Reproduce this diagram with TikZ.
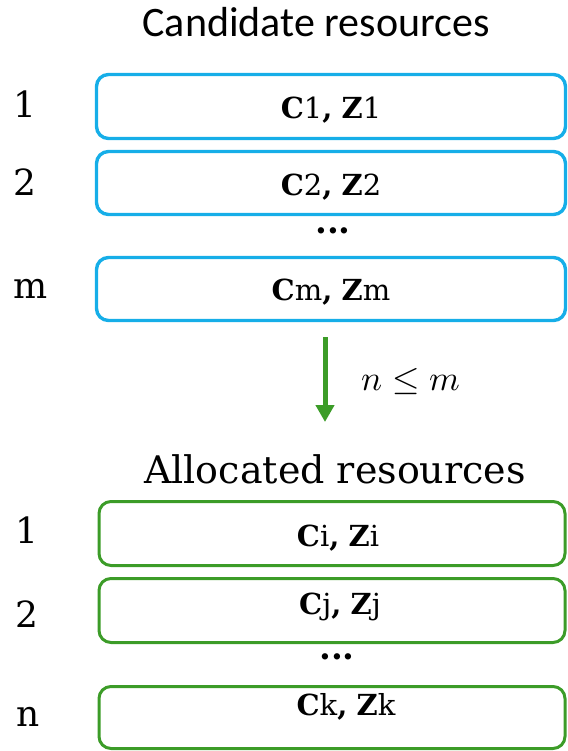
\documentclass[tikz,border=0pt]{standalone}
\usepackage{fontspec}
\usepackage{unicode-math}
\setmainfont{DejaVu Serif}
\setmathfont{Latin Modern Math}
\newfontfamily\calib{Carlito}
\usetikzlibrary{arrows.meta}
\definecolor{cblue}{RGB}{22,174,232}
\definecolor{cgreen}{RGB}{60,156,40}
\tikzset{
  candbox/.style={draw=cblue, line width=3.4pt, rounded corners=12pt, minimum width=469pt, inner sep=0pt},
  allocbox/.style={draw=cgreen, line width=3pt, rounded corners=12pt, minimum width=466pt, inner sep=0pt},
  idx/.style={font=\fontsize{36}{40}\selectfont, inner sep=0pt},
  cz/.style={font=\fontsize{29}{32}\selectfont, inner sep=0pt},
  dots/.style={font=\fontsize{34}{38}\selectfont\bfseries, inner sep=0pt},
}
\newcommand{\czpair}[1]{\textbf{C}#1\textbf{,} \textbf{Z}#1}
\begin{document}
\begin{tikzpicture}[x=1pt,y=-1pt]
\useasboundingbox (0,0) rectangle (567,751);
\node[inner sep=0pt, font=\calib\fontsize{42}{46}\selectfont] (ttop) at (316,22) {Candidate resources};
% candidate boxes
\node[candbox, minimum height=64pt] (b1) at (331,106.5) {};
\node[candbox, minimum height=63pt] (b2) at (331,183) {};
\node[candbox, minimum height=63pt] (bm) at (331,289) {};
\node[cz] (t1) at (331,110) {\czpair{1}};
\node[cz] (t2) at (331,187) {\czpair{2}};
\node[cz] (tm) at (331,292) {\czpair{m}};
\node[dots] (d1) at (333,231) {...};
\node[idx] (l1) at (25,104) {1};
\node[idx] (l2) at (25,182) {2};
\node[idx] (lm) at (31,289) {m};
% arrow
\coordinate (as) at (325,337);
\coordinate (ae) at (325,422);
\draw[cgreen, line width=5pt, -{Triangle[width=18pt,length=17pt]}] (as) -- (ae);
\node[inner sep=0pt, font=\fontsize{35}{40}\selectfont] (cond) at (411,381) {$n \le m$};
% allocated
\node[inner sep=0pt, font=\fontsize{38}{42}\selectfont] (tbot) at (335,469) {Allocated resources};
\node[allocbox, minimum height=64pt] (a1) at (332,533.5) {};
\node[allocbox, minimum height=64pt] (a2) at (332,610.5) {};
\node[allocbox, minimum height=62pt] (an) at (332,717.5) {};
\node[cz] (s1) at (338,538) {\czpair{i}};
\node[cz] (s2) at (340,607) {\czpair{j}};
\node[cz] (sn) at (346,707) {\czpair{k}};
\node[dots] (d2) at (337,657) {...};
\node[idx] (m1) at (27,530) {1};
\node[idx] (m2) at (27,614) {2};
\node[idx] (mn) at (28,717) {n};
\end{tikzpicture}
\end{document}
